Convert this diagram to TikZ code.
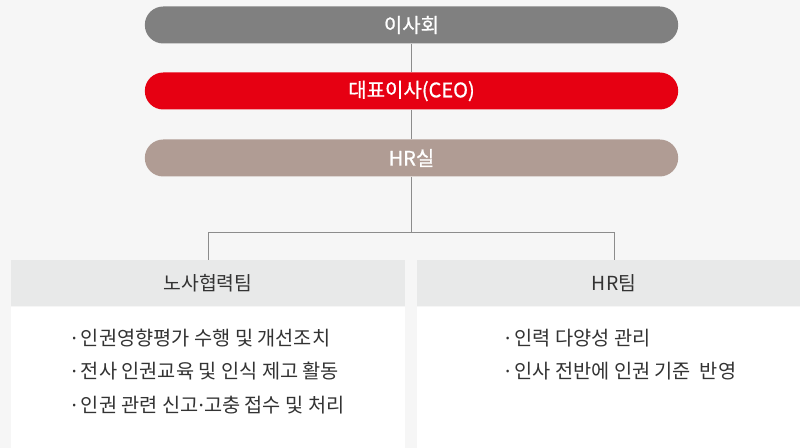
\documentclass[tikz,border=0pt]{standalone}
\usepackage{fontspec}
\setmainfont{Noto Sans CJK KR}
\newfontfamily\pillfont[FakeBold=0.8]{Noto Sans CJK KR}
\newfontfamily\dotfont{Noto Sans}
\usepackage{tikz}
\usetikzlibrary{positioning}
\definecolor{boardgray}{HTML}{808080}
\definecolor{ceored}{HTML}{E60012}
\definecolor{hrtaupe}{HTML}{B09C94}
\definecolor{pagebg}{HTML}{F6F6F6}
\definecolor{headgray}{HTML}{E8E9E9}
\definecolor{linegray}{HTML}{8C8C8C}
\definecolor{textdark}{HTML}{333333}
\newcommand{\middot}{{\dotfont ·}}
\newcommand{\itemdot}{\middot\hspace{3pt}}

\begin{document}
\begin{tikzpicture}[x=0.75pt, y=-0.75pt,
  pill/.style={rounded corners=13.8pt, minimum width=400pt, minimum height=27.75pt, inner sep=0pt, text=white, font=\pillfont\fontsize{15}{18}\selectfont},
  fill1/.style={fill=boardgray},
  fill2/.style={fill=ceored},
  fill3/.style={fill=hrtaupe},
  teamhead/.style={fill=headgray, minimum width=295.5pt, minimum height=34.5pt, inner sep=0pt, text=textdark, font=\fontsize{14.5}{17}\selectfont},
  teambody/.style={fill=white, minimum width=295.5pt, minimum height=106.5pt, inner sep=0pt},
  itemlist/.style={align=left, inner sep=0pt, text=textdark, font=\fontsize{14.8}{25}\selectfont},
  link/.style={draw=linegray, line width=0.75pt}
]
\path[use as bounding box, fill=pagebg] (0,0) rectangle (800,448);
\clip (0,0) rectangle (800,448);

\node[pill, fill1] (board) at (411.5,25) {이사회};
\node[pill, fill2] (ceo) at (411.5,91) {대표이사(CEO)};
\node[pill, fill3] (hrsil) at (411.5,158) {HR실};

\node[teamhead] (laborhead) at (208,283) {노사협력팀};
\node[teambody, below=0pt of laborhead] (laborbody) {};
\node[teamhead] (hrhead) at (614,283) {HR팀};
\node[teambody, below=0pt of hrhead] (hrbody) {};

\node[itemlist, below=17pt of laborhead] (laboritems) {\itemdot 인권영향평가 수행 및 개선조치\\\itemdot 전사 인권교육 및 인식 제고 활동\\\itemdot 인권 관련 신고\middot 고충 접수 및 처리};
\node[itemlist, below=17pt of hrhead, xshift=5pt] (hritems) {\itemdot 인력 다양성 관리\\\itemdot 인사 전반에 인권 기준\ \ 반영};

\coordinate (split) at (411.5,233);
\draw[link] (board) -- (ceo);
\draw[link] (ceo) -- (hrsil);
\draw[link] (hrsil) -- (split);
\draw[link] (split) -| (laborhead);
\draw[link] (split) -| (hrhead);
\end{tikzpicture}
\end{document}
